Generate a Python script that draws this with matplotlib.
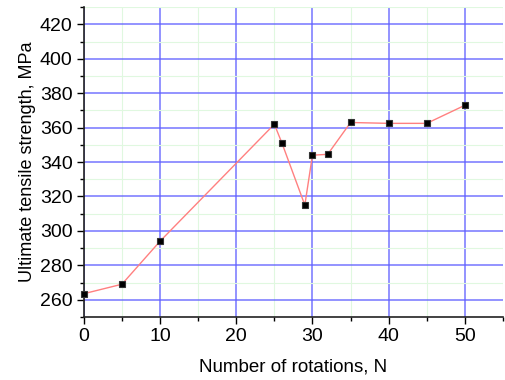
import numpy as np
import matplotlib.pyplot as plt
from matplotlib.ticker import MultipleLocator

plt.rcParams["font.family"] = ["Liberation Sans", "DejaVu Sans"]

# data
rotations = [0, 5, 10, 25, 26, 29, 30, 32, 35, 40, 45, 50]
uts = [263.5, 269, 294, 362, 351, 315, 344, 344.5, 363, 362.5, 362.5, 373]

fig = plt.figure(figsize=(5.05, 3.8), dpi=100)
ax = fig.add_axes([0.166, 0.166, 0.83, 0.815])

ax.plot(rotations, uts, color="#ff8080", lw=1.0, marker="s", ms=5,
        mfc="black", mec="#333333", mew=0.8, zorder=3, clip_on=False)

ax.set_xlim(0, 55)
ax.set_ylim(250, 430)
ax.xaxis.set_major_locator(MultipleLocator(10))
ax.xaxis.set_minor_locator(MultipleLocator(5))
ax.yaxis.set_major_locator(MultipleLocator(20))
ax.yaxis.set_minor_locator(MultipleLocator(10))
ax.set_yticks(np.arange(260, 421, 20))

ax.grid(which="major", color="#6060ff", lw=1.2, alpha=0.8)
ax.grid(which="minor", color="#e0f8e0", lw=0.8)
ax.set_axisbelow(True)

for s in ["top", "right"]:
    ax.spines[s].set_visible(False)
for s in ["left", "bottom"]:
    ax.spines[s].set_linewidth(1.2)
    ax.spines[s].set_color("#222222")

ax.tick_params(which="major", direction="out", length=5, width=1, labelsize=14, pad=3)
ax.tick_params(which="minor", direction="out", length=3, width=1)

ax.set_xlabel("Number of rotations, N", fontsize=13.5, labelpad=10)
ax.set_ylabel("Ultimate tensile strength, MPa", fontsize=13, labelpad=3)

fig.savefig("out.png", dpi=100)
